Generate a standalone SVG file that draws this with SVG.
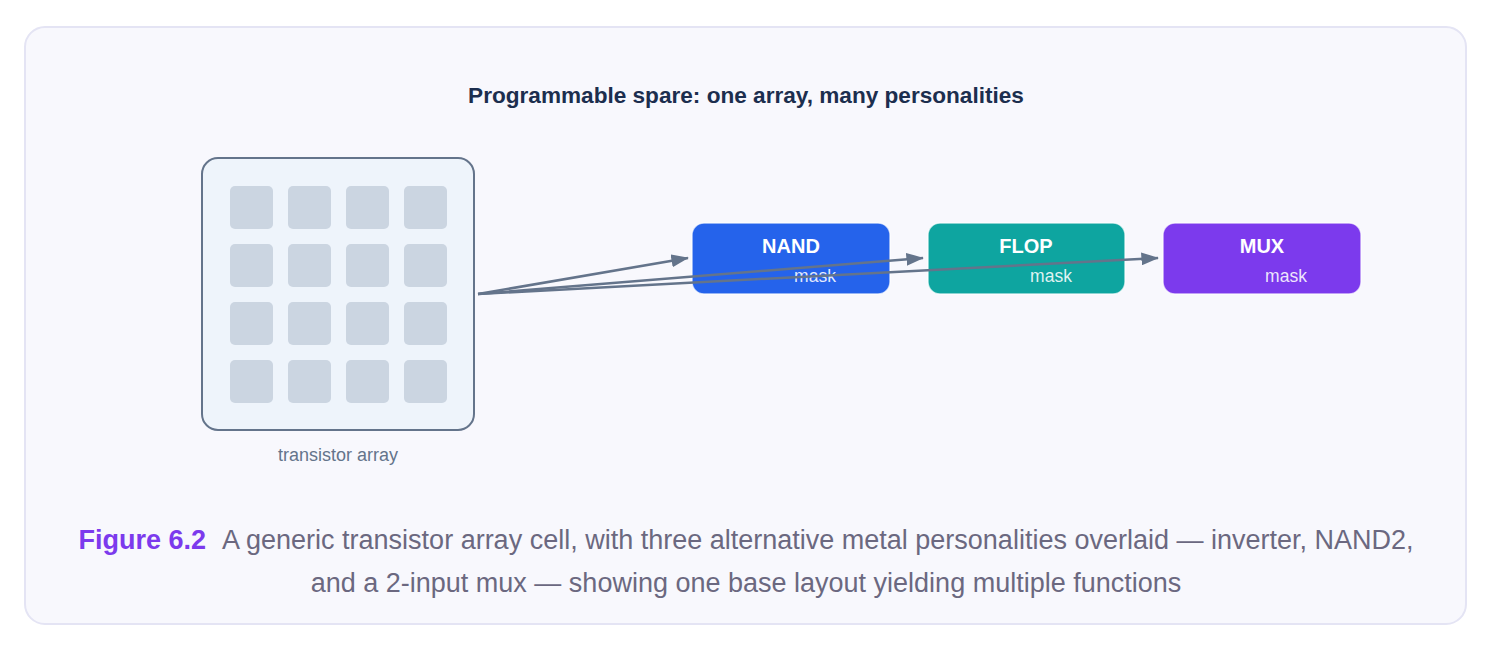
<svg xmlns="http://www.w3.org/2000/svg" width="1494" height="651" viewBox="0 0 1494 651">
<style>
.card{fill:#f8f8fd;stroke:#e4e4f4;stroke-width:2}
.title{font-family:"Liberation Sans",Arial,sans-serif;font-weight:bold;font-size:22.6px;fill:#1c2e4e}
.cell{fill:#cbd5e1}
.lbl{font-family:"Liberation Sans",Arial,sans-serif;font-size:18px;fill:#64748b}
.node{stroke:#ffffff;stroke-opacity:0.7;stroke-width:1.5}
.nt{font-family:"Liberation Sans",Arial,sans-serif;font-weight:bold;font-size:20px;fill:#ffffff;text-anchor:middle}
.mt{font-family:"Liberation Sans",Arial,sans-serif;font-size:17.5px;fill:#ffffff;fill-opacity:0.88;text-anchor:middle}
.edge{stroke:#64748b;stroke-width:2.5;fill:none;marker-end:url(#ah)}
.cap{font-family:"Liberation Sans",Arial,sans-serif;font-size:27px;fill:#6b6880}
.capb{font-weight:bold;fill:#7c3aed}
</style>
<defs>
<marker id="ah" viewBox="0 0 10 10" refX="9.5" refY="5" markerWidth="7" markerHeight="5.2" orient="auto" markerUnits="strokeWidth" preserveAspectRatio="none">
<path d="M0,0 L10,5 L0,10 z" fill="#64748b"/>
</marker>
</defs>
<rect class="card" x="25" y="27" width="1441" height="597" rx="20"/>
<text class="title" x="746" y="103" text-anchor="middle">Programmable spare: one array, many personalities</text>
<g id="array">
<rect x="202" y="158" width="272" height="272" rx="16" fill="#eef4fb" stroke="#64748b" stroke-width="2"/>
<rect class="cell" x="230" y="186" width="43" height="43" rx="5"/>
<rect class="cell" x="288" y="186" width="43" height="43" rx="5"/>
<rect class="cell" x="346" y="186" width="43" height="43" rx="5"/>
<rect class="cell" x="404" y="186" width="43" height="43" rx="5"/>
<rect class="cell" x="230" y="244" width="43" height="43" rx="5"/>
<rect class="cell" x="288" y="244" width="43" height="43" rx="5"/>
<rect class="cell" x="346" y="244" width="43" height="43" rx="5"/>
<rect class="cell" x="404" y="244" width="43" height="43" rx="5"/>
<rect class="cell" x="230" y="302" width="43" height="43" rx="5"/>
<rect class="cell" x="288" y="302" width="43" height="43" rx="5"/>
<rect class="cell" x="346" y="302" width="43" height="43" rx="5"/>
<rect class="cell" x="404" y="302" width="43" height="43" rx="5"/>
<rect class="cell" x="230" y="360" width="43" height="43" rx="5"/>
<rect class="cell" x="288" y="360" width="43" height="43" rx="5"/>
<rect class="cell" x="346" y="360" width="43" height="43" rx="5"/>
<rect class="cell" x="404" y="360" width="43" height="43" rx="5"/>
<text class="lbl" x="338" y="461" text-anchor="middle">transistor array</text>
</g>
<g id="nand">
<rect class="node" x="692" y="223" width="198" height="71" rx="12" fill="#2563eb"/>
<text class="nt" x="791" y="253">NAND</text>
<text class="mt" x="815" y="282">mask</text>
</g>
<g id="flop">
<rect class="node" x="928" y="223" width="197" height="71" rx="12" fill="#0ea5a0"/>
<text class="nt" x="1026" y="253">FLOP</text>
<text class="mt" x="1051" y="282">mask</text>
</g>
<g id="mux">
<rect class="node" x="1163" y="223" width="198" height="71" rx="12" fill="#7c3aed"/>
<text class="nt" x="1262" y="253">MUX</text>
<text class="mt" x="1286" y="282">mask</text>
</g>
<g id="connectors">
<path class="edge" d="M478,294 L688,258"/>
<path class="edge" d="M478,294 L923,258"/>
<path class="edge" d="M478,294 L1158,258"/>
</g>
<text class="cap" x="746" y="549" text-anchor="middle"><tspan class="capb">Figure 6.2</tspan><tspan dx="16">A generic transistor array cell, with three alternative metal personalities overlaid — inverter, NAND2,</tspan></text>
<text class="cap" x="746" y="592" text-anchor="middle">and a 2-input mux — showing one base layout yielding multiple functions</text>
</svg>
